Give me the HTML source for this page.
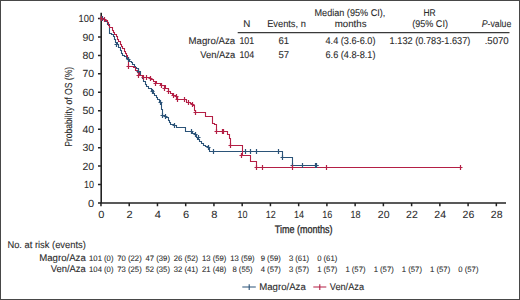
<!DOCTYPE html><html><head><meta charset="utf-8"><style>html,body{margin:0;padding:0;background:#fff;}svg{display:block;font-family:"Liberation Sans",sans-serif;} text{stroke:#2a2a2a;stroke-width:0.1px;text-rendering:geometricPrecision;}</style></head><body>
<svg width="520" height="300" viewBox="0 0 520 300">
<rect x="0" y="0" width="520" height="300" fill="#fff"/>
<text x="246.90" y="27.00" font-size="9.8" text-anchor="middle" fill="#2a2a2a">N</text>
<text x="286.50" y="27.00" font-size="9.8" text-anchor="middle" textLength="38.60" lengthAdjust="spacingAndGlyphs" fill="#2a2a2a">Events, n</text>
<text x="349.90" y="16.00" font-size="9.8" text-anchor="middle" textLength="70.80" lengthAdjust="spacingAndGlyphs" fill="#2a2a2a">Median (95% CI),</text>
<text x="350.60" y="27.00" font-size="9.8" text-anchor="middle" textLength="31.80" lengthAdjust="spacingAndGlyphs" fill="#2a2a2a">months</text>
<text x="429.60" y="16.00" font-size="9.8" text-anchor="middle" textLength="12.20" lengthAdjust="spacingAndGlyphs" fill="#2a2a2a">HR</text>
<text x="430.10" y="27.00" font-size="9.8" text-anchor="middle" textLength="35.60" lengthAdjust="spacingAndGlyphs" fill="#2a2a2a">(95% CI)</text>
<text x="496.5" y="27" font-size="9.8" text-anchor="middle" textLength="29.6" lengthAdjust="spacingAndGlyphs" fill="#2a2a2a"><tspan font-style="italic">P</tspan>-value</text>
<line x1="237.7" y1="32.6" x2="509.5" y2="32.6" stroke="#3a3a3a" stroke-width="1.15"/>
<text x="235.20" y="44.00" font-size="9.8" text-anchor="end" textLength="46.60" lengthAdjust="spacingAndGlyphs" fill="#2a2a2a">Magro/Aza</text>
<text x="246.80" y="44.00" font-size="9.8" text-anchor="middle" textLength="14.80" lengthAdjust="spacingAndGlyphs" fill="#2a2a2a">101</text>
<text x="283.80" y="44.00" font-size="9.8" text-anchor="middle" textLength="10.60" lengthAdjust="spacingAndGlyphs" fill="#2a2a2a">61</text>
<text x="350.50" y="44.00" font-size="9.8" text-anchor="middle" textLength="50.00" lengthAdjust="spacingAndGlyphs" fill="#2a2a2a">4.4 (3.6-6.0)</text>
<text x="235.20" y="58.00" font-size="9.8" text-anchor="end" textLength="35.00" lengthAdjust="spacingAndGlyphs" fill="#2a2a2a">Ven/Aza</text>
<text x="246.80" y="58.00" font-size="9.8" text-anchor="middle" textLength="14.80" lengthAdjust="spacingAndGlyphs" fill="#2a2a2a">104</text>
<text x="283.80" y="58.00" font-size="9.8" text-anchor="middle" textLength="10.60" lengthAdjust="spacingAndGlyphs" fill="#2a2a2a">57</text>
<text x="350.50" y="58.00" font-size="9.8" text-anchor="middle" textLength="50.00" lengthAdjust="spacingAndGlyphs" fill="#2a2a2a">6.6 (4.8-8.1)</text>
<text x="430.00" y="44.00" font-size="9.8" text-anchor="middle" textLength="80.80" lengthAdjust="spacingAndGlyphs" fill="#2a2a2a">1.132 (0.783-1.637)</text>
<text x="496.70" y="44.00" font-size="9.8" text-anchor="middle" textLength="24.10" lengthAdjust="spacingAndGlyphs" fill="#2a2a2a">.5070</text>
<g stroke="#222" fill="none">
<path d="M101.2,12.7V203.0" stroke-width="1.6"/>
<path d="M100.4,203.0H506" stroke-width="1.6"/>
<path d="M97.98,203.00H100.98M97.98,184.55H100.98M97.98,166.10H100.98M97.98,147.65H100.98M97.98,129.20H100.98M97.98,110.75H100.98M97.98,92.30H100.98M97.98,73.85H100.98M97.98,55.40H100.98M97.98,36.95H100.98M97.98,18.50H100.98M100.98,203.00V206.30M129.22,203.00V206.30M157.46,203.00V206.30M185.70,203.00V206.30M213.94,203.00V206.30M242.18,203.00V206.30M270.42,203.00V206.30M298.66,203.00V206.30M326.90,203.00V206.30M355.14,203.00V206.30M383.38,203.00V206.30M411.62,203.00V206.30M439.86,203.00V206.30M468.10,203.00V206.30M496.34,203.00V206.30" stroke-width="1.5"/>
</g>
<text x="94.10" y="206.60" font-size="10.4" text-anchor="end" textLength="6.15" lengthAdjust="spacingAndGlyphs" fill="#2a2a2a" style="stroke-width:0.05px">0</text>
<text x="94.10" y="188.15" font-size="10.4" text-anchor="end" textLength="10.05" lengthAdjust="spacingAndGlyphs" fill="#2a2a2a" style="stroke-width:0.05px">10</text>
<text x="94.10" y="169.70" font-size="10.4" text-anchor="end" textLength="11.70" lengthAdjust="spacingAndGlyphs" fill="#2a2a2a" style="stroke-width:0.05px">20</text>
<text x="94.10" y="151.25" font-size="10.4" text-anchor="end" textLength="11.70" lengthAdjust="spacingAndGlyphs" fill="#2a2a2a" style="stroke-width:0.05px">30</text>
<text x="94.10" y="132.80" font-size="10.4" text-anchor="end" textLength="11.70" lengthAdjust="spacingAndGlyphs" fill="#2a2a2a" style="stroke-width:0.05px">40</text>
<text x="94.10" y="114.35" font-size="10.4" text-anchor="end" textLength="11.70" lengthAdjust="spacingAndGlyphs" fill="#2a2a2a" style="stroke-width:0.05px">50</text>
<text x="94.10" y="95.90" font-size="10.4" text-anchor="end" textLength="11.70" lengthAdjust="spacingAndGlyphs" fill="#2a2a2a" style="stroke-width:0.05px">60</text>
<text x="94.10" y="77.45" font-size="10.4" text-anchor="end" textLength="11.70" lengthAdjust="spacingAndGlyphs" fill="#2a2a2a" style="stroke-width:0.05px">70</text>
<text x="94.10" y="59.00" font-size="10.4" text-anchor="end" textLength="11.70" lengthAdjust="spacingAndGlyphs" fill="#2a2a2a" style="stroke-width:0.05px">80</text>
<text x="94.10" y="40.55" font-size="10.4" text-anchor="end" textLength="11.70" lengthAdjust="spacingAndGlyphs" fill="#2a2a2a" style="stroke-width:0.05px">90</text>
<text x="94.10" y="22.10" font-size="10.4" text-anchor="end" textLength="15.60" lengthAdjust="spacingAndGlyphs" fill="#2a2a2a" style="stroke-width:0.05px">100</text>
<text x="101.28" y="218.00" font-size="10.4" text-anchor="middle" textLength="6.15" lengthAdjust="spacingAndGlyphs" fill="#2a2a2a" style="stroke-width:0.05px">0</text>
<text x="129.52" y="218.00" font-size="10.4" text-anchor="middle" textLength="6.15" lengthAdjust="spacingAndGlyphs" fill="#2a2a2a" style="stroke-width:0.05px">2</text>
<text x="157.76" y="218.00" font-size="10.4" text-anchor="middle" textLength="6.15" lengthAdjust="spacingAndGlyphs" fill="#2a2a2a" style="stroke-width:0.05px">4</text>
<text x="186.00" y="218.00" font-size="10.4" text-anchor="middle" textLength="6.15" lengthAdjust="spacingAndGlyphs" fill="#2a2a2a" style="stroke-width:0.05px">6</text>
<text x="214.24" y="218.00" font-size="10.4" text-anchor="middle" textLength="6.15" lengthAdjust="spacingAndGlyphs" fill="#2a2a2a" style="stroke-width:0.05px">8</text>
<text x="242.48" y="218.00" font-size="10.4" text-anchor="middle" textLength="10.05" lengthAdjust="spacingAndGlyphs" fill="#2a2a2a" style="stroke-width:0.05px">10</text>
<text x="270.72" y="218.00" font-size="10.4" text-anchor="middle" textLength="10.05" lengthAdjust="spacingAndGlyphs" fill="#2a2a2a" style="stroke-width:0.05px">12</text>
<text x="298.96" y="218.00" font-size="10.4" text-anchor="middle" textLength="10.05" lengthAdjust="spacingAndGlyphs" fill="#2a2a2a" style="stroke-width:0.05px">14</text>
<text x="327.20" y="218.00" font-size="10.4" text-anchor="middle" textLength="10.05" lengthAdjust="spacingAndGlyphs" fill="#2a2a2a" style="stroke-width:0.05px">16</text>
<text x="355.44" y="218.00" font-size="10.4" text-anchor="middle" textLength="10.05" lengthAdjust="spacingAndGlyphs" fill="#2a2a2a" style="stroke-width:0.05px">18</text>
<text x="383.68" y="218.00" font-size="10.4" text-anchor="middle" textLength="11.70" lengthAdjust="spacingAndGlyphs" fill="#2a2a2a" style="stroke-width:0.05px">20</text>
<text x="411.92" y="218.00" font-size="10.4" text-anchor="middle" textLength="11.70" lengthAdjust="spacingAndGlyphs" fill="#2a2a2a" style="stroke-width:0.05px">22</text>
<text x="440.16" y="218.00" font-size="10.4" text-anchor="middle" textLength="11.70" lengthAdjust="spacingAndGlyphs" fill="#2a2a2a" style="stroke-width:0.05px">24</text>
<text x="468.40" y="218.00" font-size="10.4" text-anchor="middle" textLength="11.70" lengthAdjust="spacingAndGlyphs" fill="#2a2a2a" style="stroke-width:0.05px">26</text>
<text x="496.64" y="218.00" font-size="10.4" text-anchor="middle" textLength="11.70" lengthAdjust="spacingAndGlyphs" fill="#2a2a2a" style="stroke-width:0.05px">28</text>
<text x="303.70" y="233.00" font-size="11" text-anchor="middle" textLength="57.80" lengthAdjust="spacingAndGlyphs" fill="#2a2a2a" style="stroke-width:0.3px">Time (months)</text>
<text transform="translate(71.6,106.8) rotate(-90)" x="0" y="0" font-size="10.2" text-anchor="middle" textLength="79.8" lengthAdjust="spacingAndGlyphs" fill="#2a2a2a">Probability of OS (%)</text>
<path d="M100.5,18.5H103.5V19.5H105.5V21.5H107.5V24.5H109.5V28.5H109.5V33.5H111.5V34.5H113.5V36.5H114.5V39.5H115.5V42.5H117.5V44.5H118.5V47.5H120.5V50.5H121.5V53.5H122.5V55.5H124.5V56.5H126.5V58.5H128.5V59.5H129.5V61.5H131.5V62.5H132.5V64.5H134.5V66.5H135.5V67.5H136.5V68.5H138.5V71.5H140.5V75.5H142.5V78.5H143.5V81.5H145.5V84.5H146.5V86.5H148.5V88.5H151.5V90.5H153.5V93.5H154.5V95.5H156.5V97.5H157.5V99.5H159.5V101.5H160.5V102.5H161.5V106.5H161.5V109.5H162.5V115.5H165.5V117.5H168.5V120.5H169.5V122.5H170.5V124.5H173.5V125.5H176.5V127.5H185.5V131.5H192.5V133.5H195.5V134.5H196.5V137.5H197.5V139.5H199.5V141.5H201.5V143.5H203.5V145.5H205.5V146.5H208.5V147.5H209.5V151.5H282.5V157.5H292.5V165.5H318.5" stroke="#2b5378" stroke-width="1.1" fill="none"/>
<path d="M100.5,18.5H104.5V19.5H105.5V20.5H107.5V22.5H108.5V25.5H109.5V27.5H112.5V30.5H113.5V32.5H114.5V34.5H116.5V36.5H117.5V39.5H118.5V41.5H120.5V44.5H121.5V46.5H122.5V48.5H124.5V51.5H125.5V53.5H126.5V55.5H127.5V57.5H128.5V59.5H128.5V66.5H133.5V67.5H135.5V70.5H137.5V72.5H139.5V75.5H142.5V77.5H150.5V79.5H153.5V81.5H156.5V83.5H160.5V85.5H165.5V88.5H168.5V91.5H170.5V93.5H172.5V95.5H175.5V96.5H177.5V99.5H186.5V102.5H190.5V103.5H192.5V105.5H194.5V108.5H194.5V110.5H195.5V112.5H205.5V116.5H212.5V123.5H214.5V124.5H216.5V131.5H227.5V134.5H229.5V138.5H230.5V145.5H242.5V155.5H250.5V161.5H256.5V167.5H460.5" stroke="#b41f45" stroke-width="1.1" fill="none"/>
<path d="M102.5,16.0V21.0M100.5,18.5H104.5M116.5,42.0V47.0M114.5,44.5H118.5M128.5,57.0V62.0M126.5,59.5H130.5M138.5,69.0V74.0M136.5,71.5H140.5M152.5,89.0V94.0M150.5,91.5H154.5M160.5,100.0V105.0M158.5,102.5H162.5M162.5,113.0V118.0M160.5,115.5H164.5M165.5,114.0V119.0M163.5,116.5H167.5M174.5,123.0V128.0M172.5,125.5H176.5M191.5,129.0V134.0M189.5,131.5H193.5M195.5,132.0V137.0M193.5,134.5H197.5M198.5,135.0V140.0M196.5,137.5H200.5M208.5,145.0V150.0M206.5,147.5H210.5M213.5,149.0V154.0M211.5,151.5H215.5M245.5,149.0V154.0M243.5,151.5H247.5M250.5,149.0V154.0M248.5,151.5H252.5M256.5,149.0V154.0M254.5,151.5H258.5M278.5,149.0V154.0M276.5,151.5H280.5M282.5,155.0V160.0M280.5,157.5H284.5M292.5,163.0V168.0M290.5,165.5H294.5M302.5,163.0V168.0M300.5,165.5H304.5M315.5,163.0V168.0M313.5,165.5H317.5M316.5,163.0V168.0M314.5,165.5H318.5" stroke="#2b5378" stroke-width="1.2" fill="none"/>
<path d="M101.5,16.0V21.0M99.5,18.5H103.5M104.5,17.0V22.0M102.5,19.5H106.5M128.5,64.0V69.0M126.5,66.5H130.5M138.5,73.0V78.0M136.5,75.5H140.5M143.5,75.0V80.0M141.5,77.5H145.5M146.5,75.0V80.0M144.5,77.5H148.5M150.5,76.0V81.0M148.5,78.5H152.5M155.5,81.0V86.0M153.5,83.5H157.5M161.5,83.0V88.0M159.5,85.5H163.5M164.5,86.0V91.0M162.5,88.5H166.5M168.5,89.0V94.0M166.5,91.5H170.5M173.5,93.0V98.0M171.5,95.5H175.5M176.5,94.0V99.0M174.5,96.5H178.5M177.5,97.0V102.0M175.5,99.5H179.5M184.5,97.0V102.0M182.5,99.5H186.5M188.5,100.0V105.0M186.5,102.5H190.5M192.5,102.0V107.0M190.5,104.5H194.5M195.5,110.0V115.0M193.5,112.5H197.5M216.5,129.0V134.0M214.5,131.5H218.5M222.5,129.0V134.0M220.5,131.5H224.5M223.5,129.0V134.0M221.5,131.5H225.5M230.5,143.0V148.0M228.5,145.5H232.5M241.5,153.0V158.0M239.5,155.5H243.5M256.5,165.0V170.0M254.5,167.5H258.5M262.5,165.0V170.0M260.5,167.5H264.5M292.5,165.0V170.0M290.5,167.5H294.5M326.5,165.0V170.0M324.5,167.5H328.5M460.5,165.0V170.0M458.5,167.5H462.5" stroke="#b41f45" stroke-width="1.2" fill="none"/>
<text x="7.40" y="248.00" font-size="9.8" text-anchor="start" textLength="78.40" lengthAdjust="spacingAndGlyphs" fill="#2a2a2a">No. at risk (events)</text>
<text x="85.80" y="261.00" font-size="9.8" text-anchor="end" textLength="46.60" lengthAdjust="spacingAndGlyphs" fill="#2a2a2a">Magro/Aza</text>
<text x="85.80" y="272.00" font-size="9.8" text-anchor="end" textLength="35.00" lengthAdjust="spacingAndGlyphs" fill="#2a2a2a">Ven/Aza</text>
<text x="101.28" y="260.60" font-size="7.9" text-anchor="middle" textLength="24.39" lengthAdjust="spacingAndGlyphs" fill="#2a2a2a" style="stroke-width:0.08px">101 (0)</text>
<text x="129.52" y="260.60" font-size="7.9" text-anchor="middle" textLength="24.39" lengthAdjust="spacingAndGlyphs" fill="#2a2a2a" style="stroke-width:0.08px">70 (22)</text>
<text x="157.76" y="260.60" font-size="7.9" text-anchor="middle" textLength="24.39" lengthAdjust="spacingAndGlyphs" fill="#2a2a2a" style="stroke-width:0.08px">47 (39)</text>
<text x="186.00" y="260.60" font-size="7.9" text-anchor="middle" textLength="24.39" lengthAdjust="spacingAndGlyphs" fill="#2a2a2a" style="stroke-width:0.08px">26 (52)</text>
<text x="214.24" y="260.60" font-size="7.9" text-anchor="middle" textLength="24.39" lengthAdjust="spacingAndGlyphs" fill="#2a2a2a" style="stroke-width:0.08px">13 (59)</text>
<text x="242.48" y="260.60" font-size="7.9" text-anchor="middle" textLength="24.39" lengthAdjust="spacingAndGlyphs" fill="#2a2a2a" style="stroke-width:0.08px">13 (59)</text>
<text x="270.72" y="260.60" font-size="7.9" text-anchor="middle" textLength="20.11" lengthAdjust="spacingAndGlyphs" fill="#2a2a2a" style="stroke-width:0.08px">9 (59)</text>
<text x="298.96" y="260.60" font-size="7.9" text-anchor="middle" textLength="20.11" lengthAdjust="spacingAndGlyphs" fill="#2a2a2a" style="stroke-width:0.08px">3 (61)</text>
<text x="327.20" y="260.60" font-size="7.9" text-anchor="middle" textLength="20.11" lengthAdjust="spacingAndGlyphs" fill="#2a2a2a" style="stroke-width:0.08px">0 (61)</text>
<text x="101.28" y="271.80" font-size="7.9" text-anchor="middle" textLength="24.39" lengthAdjust="spacingAndGlyphs" fill="#2a2a2a" style="stroke-width:0.08px">104 (0)</text>
<text x="129.52" y="271.80" font-size="7.9" text-anchor="middle" textLength="24.39" lengthAdjust="spacingAndGlyphs" fill="#2a2a2a" style="stroke-width:0.08px">73 (25)</text>
<text x="157.76" y="271.80" font-size="7.9" text-anchor="middle" textLength="24.39" lengthAdjust="spacingAndGlyphs" fill="#2a2a2a" style="stroke-width:0.08px">52 (35)</text>
<text x="186.00" y="271.80" font-size="7.9" text-anchor="middle" textLength="24.39" lengthAdjust="spacingAndGlyphs" fill="#2a2a2a" style="stroke-width:0.08px">32 (41)</text>
<text x="214.24" y="271.80" font-size="7.9" text-anchor="middle" textLength="24.39" lengthAdjust="spacingAndGlyphs" fill="#2a2a2a" style="stroke-width:0.08px">21 (48)</text>
<text x="242.48" y="271.80" font-size="7.9" text-anchor="middle" textLength="20.11" lengthAdjust="spacingAndGlyphs" fill="#2a2a2a" style="stroke-width:0.08px">8 (55)</text>
<text x="270.72" y="271.80" font-size="7.9" text-anchor="middle" textLength="20.11" lengthAdjust="spacingAndGlyphs" fill="#2a2a2a" style="stroke-width:0.08px">4 (57)</text>
<text x="298.96" y="271.80" font-size="7.9" text-anchor="middle" textLength="20.11" lengthAdjust="spacingAndGlyphs" fill="#2a2a2a" style="stroke-width:0.08px">3 (57)</text>
<text x="327.20" y="271.80" font-size="7.9" text-anchor="middle" textLength="20.11" lengthAdjust="spacingAndGlyphs" fill="#2a2a2a" style="stroke-width:0.08px">1 (57)</text>
<text x="355.44" y="271.80" font-size="7.9" text-anchor="middle" textLength="20.11" lengthAdjust="spacingAndGlyphs" fill="#2a2a2a" style="stroke-width:0.08px">1 (57)</text>
<text x="383.68" y="271.80" font-size="7.9" text-anchor="middle" textLength="20.11" lengthAdjust="spacingAndGlyphs" fill="#2a2a2a" style="stroke-width:0.08px">1 (57)</text>
<text x="411.92" y="271.80" font-size="7.9" text-anchor="middle" textLength="20.11" lengthAdjust="spacingAndGlyphs" fill="#2a2a2a" style="stroke-width:0.08px">1 (57)</text>
<text x="440.16" y="271.80" font-size="7.9" text-anchor="middle" textLength="20.11" lengthAdjust="spacingAndGlyphs" fill="#2a2a2a" style="stroke-width:0.08px">1 (57)</text>
<text x="468.40" y="271.80" font-size="7.9" text-anchor="middle" textLength="20.11" lengthAdjust="spacingAndGlyphs" fill="#2a2a2a" style="stroke-width:0.08px">0 (57)</text>
<path d="M242.3,287.0H255.8M249.2,284.2V290.0" stroke="#2b5378" stroke-width="1.1" fill="none"/>
<text x="259.20" y="290.00" font-size="9.8" text-anchor="start" textLength="46.60" lengthAdjust="spacingAndGlyphs" fill="#2a2a2a">Magro/Aza</text>
<path d="M313.3,287.0H326.3M319.8,284.2V290.0" stroke="#b41f45" stroke-width="1.1" fill="none"/>
<text x="329.80" y="290.00" font-size="9.8" text-anchor="start" textLength="34.20" lengthAdjust="spacingAndGlyphs" fill="#2a2a2a">Ven/Aza</text>
<rect x="0.5" y="0.5" width="519" height="299" fill="none" stroke="#474747" stroke-width="1"/>
</svg></body></html>
